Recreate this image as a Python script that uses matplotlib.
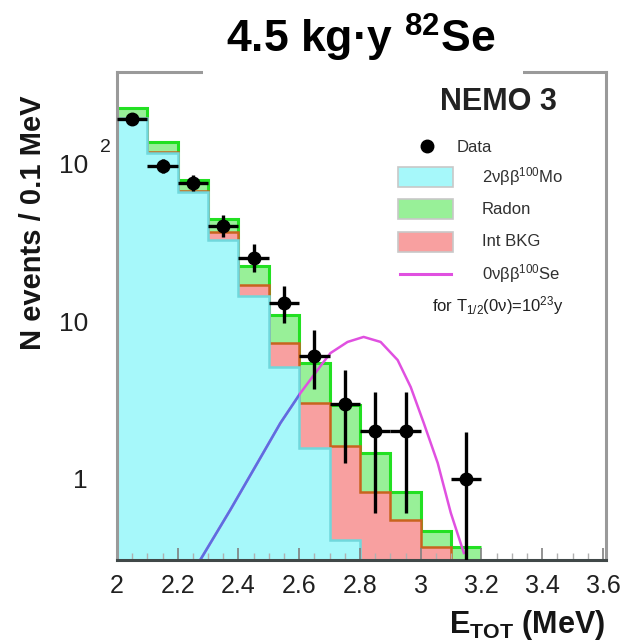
import matplotlib
matplotlib.use("Agg")
import matplotlib.pyplot as plt
import numpy as np
from matplotlib.patches import Rectangle

plt.rcParams["font.family"] = ["Liberation Sans", "DejaVu Sans"]
plt.rcParams["mathtext.fontset"] = "custom"
plt.rcParams["mathtext.rm"] = "Liberation Sans"
plt.rcParams["mathtext.bf"] = "Liberation Sans:bold"
plt.rcParams["mathtext.it"] = "Liberation Sans:italic"
plt.rcParams["mathtext.default"] = "regular"

# --- data ---
bin_edges = [2.0, 2.1, 2.2, 2.3, 2.4, 2.5, 2.6, 2.7, 2.8, 2.9, 3.0, 3.1, 3.2]
two_nu_mo = [193, 116, 65.5, 32.6, 14.4, 5.1, 1.57, 0.41, 0, 0, 0, 0]
int_bkg = [1.0, 0.8, 0.6, 4.0, 2.5, 2.16, 1.46, 1.21, 0.83, 0.55, 0.37, 0.2]
radon = [30, 20, 12.5, 7.4, 5.4, 3.6, 2.4, 1.3, 0.63, 0.28, 0.1, 0.17]

data_x = [2.05, 2.15, 2.25, 2.35, 2.45, 2.55, 2.65, 2.75, 2.85, 2.95, 3.15]
data_y = [190, 96, 75, 40, 25, 13, 6, 3, 2, 2, 1]
data_err_lo = [13, 9.5, 8.5, 6, 4.6, 3.3, 2.3, 1.74, 1.39, 1.39, 0.999]
data_err_hi = [15, 10.5, 9.5, 7, 5.7, 3.6, 2.8, 1.9, 1.55, 1.55, 0.98]

sig_x = [2.274, 2.373, 2.462, 2.538, 2.604, 2.68, 2.703, 2.759, 2.812,
         2.868, 2.924, 2.967, 3.01, 3.056, 3.099, 3.142]
sig_y = [0.307, 0.637, 1.26, 2.26, 3.5, 5.5, 6.27, 7.37, 7.93,
         7.37, 5.66, 3.82, 2.26, 1.26, 0.61, 0.34]

x_ticks = [2, 2.2, 2.4, 2.6, 2.8, 3, 3.2, 3.4, 3.6]
x_tick_labels = ["2", "2.2", "2.4", "2.6", "2.8", "3", "3.2", "3.4", "3.6"]
y_ticks = [1, 10, 100]
y_tick_labels = ["1", "10", "10"]

W, H = 626, 642
L, R, T, B = 117, 606, 72, 560


def fx(px):
    return (px - L) / (R - L)


def fy(py):
    return (B - py) / (B - T)


fig = plt.figure(figsize=(W / 100, H / 100), dpi=100)
ax = fig.add_axes([L / W, 1 - B / H, (R - L) / W, (B - T) / H])
ax.set_yscale("log")
ax.set_xlim(2.0, 3.61)
ax.set_ylim(0.307, 377)

edges = np.array(bin_edges)
cyan = np.array(two_nu_mo, dtype=float)
red_top = cyan + np.array(int_bkg)
green_top = red_top + np.array(radon)
base = 1e-3

# stacked histogram: total first, then covered by lower components
ax.stairs(np.maximum(green_top, base), edges, baseline=base, fill=True,
          color="#98f098", zorder=1)
ax.stairs(np.maximum(green_top, base), edges, baseline=None,
          color="#22e022", lw=2.2, zorder=1.1)
ax.stairs(np.maximum(red_top, base), edges, baseline=base, fill=True,
          color="#f8a0a0", zorder=1.2)
ax.stairs(np.maximum(red_top, base), edges, baseline=None,
          color="#c8641e", lw=1.8, zorder=1.3)
cyan_patch = ax.stairs(np.maximum(cyan, base), edges, baseline=base, fill=True,
                       color="#a6f8fa", zorder=1.4)
ax.stairs(np.maximum(cyan, base), edges, baseline=None,
          color="#70d8dc", lw=1.8, zorder=1.5)

# 0nu signal curve: magenta, blue where it sits inside the 2nu fill
ax.plot(sig_x, sig_y, color="#e050e0", lw=1.8, zorder=2)
blue = ax.plot(sig_x, sig_y, color="#5a70e0", lw=1.8, zorder=2.1)[0]
blue.set_clip_path(cyan_patch)

ax.errorbar(data_x, data_y, xerr=0.05, yerr=[data_err_lo, data_err_hi],
            fmt="o", color="black", ms=9, elinewidth=2.4, capsize=0, zorder=5)

# axes styling
ax.set_xticks(x_ticks)
ax.set_xticklabels(x_tick_labels)
ax.xaxis.set_minor_locator(matplotlib.ticker.MultipleLocator(0.05))
ax.set_yticks(y_ticks)
ax.set_yticklabels(y_tick_labels)
ax.yaxis.set_minor_locator(matplotlib.ticker.NullLocator())
ax.tick_params(axis="x", which="major", direction="in", length=9, width=1.2,
               labelsize=18, pad=10, color="#808080", labelcolor="#202020")
ax.tick_params(axis="x", which="minor", direction="in", length=5, width=1.0,
               color="#b0b0b0")
ax.tick_params(axis="y", which="major", direction="in", length=0,
               labelsize=19, pad=21, labelcolor="#202020")
for side in ("left", "right", "top"):
    ax.spines[side].set_color("#9a9a9a")
    ax.spines[side].set_linewidth(2.2)
ax.spines["bottom"].set_color("#404848")
ax.spines["bottom"].set_linewidth(2.2)
ax.text(105 / W, 1 - 148 / H, "2", transform=fig.transFigure, fontsize=14,
        ha="center", va="center", color="#202020")

# legend drawn by hand
ax.text(fx(498), fy(102), "NEMO 3", transform=ax.transAxes, fontsize=22,
        fontweight="bold", ha="center", va="center", color="#222222")
ax.plot([fx(427)], [fy(146)], "o", color="black", ms=9,
        transform=ax.transAxes, clip_on=False)
ax.text(fx(457), fy(147), "Data", transform=ax.transAxes, fontsize=12,
        ha="left", va="center", color="#303030")
legend_rows = [
    (177, "#a6f8fa", "#70d8dc", "2\u03bd\u03b2\u03b2$^{100}$Mo"),
    (209, "#98f098", "#22e022", "Radon"),
    (242, "#f8a0a0", "#c8641e", "Int BKG"),
]
for py, face, edge, label in legend_rows:
    ax.add_patch(Rectangle((fx(398), fy(py + 10)), fx(453) - fx(398),
                           fy(py - 10) - fy(py + 10), transform=ax.transAxes,
                           facecolor=face, edgecolor="#c8c8c8", lw=1.2,
                           zorder=6))
    ax.text(fx(482), fy(py), label, transform=ax.transAxes, fontsize=12,
            ha="left", va="center", color="#303030")
ax.plot([fx(400), fx(451)], [fy(274), fy(274)], color="#e050e0", lw=2.2,
        transform=ax.transAxes)
ax.text(fx(482), fy(274), "0\u03bd\u03b2\u03b2$^{100}$Se",
        transform=ax.transAxes, fontsize=12, ha="left", va="center",
        color="#303030")
ax.text(fx(498), fy(306), "for T$_{1/2}$(0\u03bd)=10$^{23}$y",
        transform=ax.transAxes, fontsize=12, ha="center", va="center",
        color="#202020")

# labels and title
fig.text(33 / W, 1 - 350 / H, "N events / 0.1 MeV", rotation=90,
         fontsize=21, fontweight="bold", ha="center", va="bottom",
         color="#151515")
fig.text(605 / W, 1 - 633 / H, "E$_{\\mathbf{TOT}}$ (MeV)", fontsize=22,
         fontweight="bold", ha="right", va="baseline", color="#151515")
fig.add_artist(Rectangle((203 / W, 1 - 78 / H), 320 / W, 12 / H,
                         transform=fig.transFigure, facecolor="white",
                         edgecolor="none", zorder=3))
fig.text(361 / W, 1 - 53 / H, "4.5 kg\u00b7y $^{\\mathbf{82}}$Se",
         fontsize=32, fontweight="bold", ha="center", va="baseline",
         color="black", zorder=4)

fig.savefig("out.png", dpi=100)
